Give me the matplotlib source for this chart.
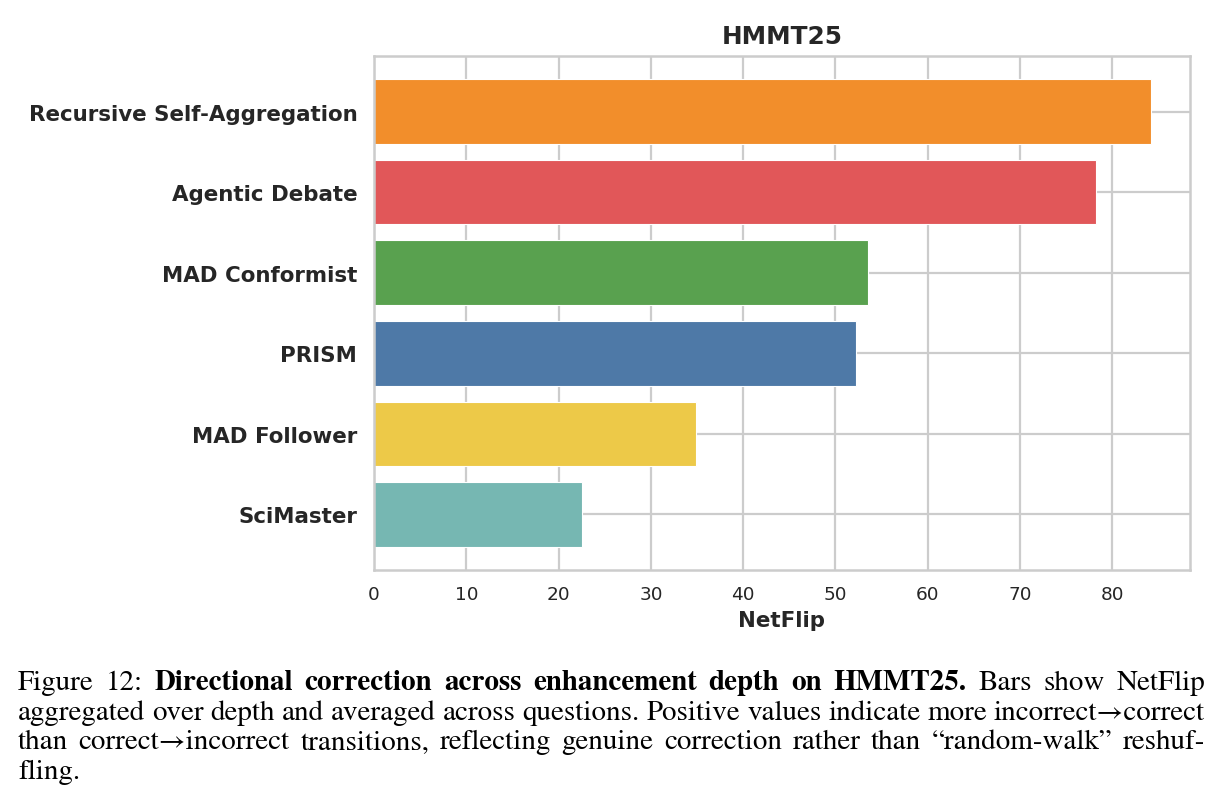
import numpy as np
import matplotlib
matplotlib.use("Agg")
import matplotlib.pyplot as plt

# data
methods = ["Recursive Self-Aggregation", "Agentic Debate", "MAD Conformist",
           "PRISM", "MAD Follower", "SciMaster"]
netflip = [84.2, 78.2, 53.5, 52.2, 34.9, 22.5]
colors = ["#F28E2B", "#E15759", "#59A14F", "#4E79A7", "#EDC948", "#76B7B2"]
x_ticks = [0, 10, 20, 30, 40, 50, 60, 70, 80]

title = "HMMT25"
xlabel = "NetFlip"

# caption lines: list of (text, weight) parts, plus whether the line is justified
caption = [
    ([("Figure 12:", "normal"),
      ("Directional correction across enhancement depth on HMMT25.", "bold"),
      ("Bars show NetFlip", "normal")], True),
    ([("aggregated over depth and averaged across questions. Positive values indicate more incorrect\u2192correct", "normal")], True),
    ([("than correct\u2192incorrect transitions, reflecting genuine correction rather than \u201crandom-walk\u201d reshuf-", "normal")], True),
    ([("fling.", "normal")], False),
]

W, H, DPI = 1223, 812, 100
txt_col = "#262626"
grid_col = "#cccccc"

fig = plt.figure(figsize=(W / DPI, H / DPI), dpi=DPI)
ax = fig.add_axes([374 / W, 1 - 571 / H, (1190 - 374) / W, (571 - 57) / H])

y = np.arange(len(methods))
ax.barh(y, netflip, height=0.8, color=colors, edgecolor="white", linewidth=0.8, zorder=2)
ax.invert_yaxis()

ax.set_axisbelow(True)
ax.grid(True, color=grid_col, linewidth=1.6, zorder=0)
for s in ax.spines.values():
    s.set_color(grid_col)
    s.set_linewidth(1.8)

ax.set_xticks(x_ticks)
ax.set_yticks(y)
ax.set_yticklabels(methods, fontsize=15.4, fontweight="bold", color=txt_col)
ax.tick_params(axis="x", labelsize=13.3, labelcolor=txt_col, length=0, pad=11)
ax.tick_params(axis="y", length=0, pad=12)

ax.set_xlabel(xlabel, fontsize=15.4, fontweight="bold", color=txt_col, labelpad=5)
ax.set_title(title, fontsize=17.8, fontweight="bold", color=txt_col, pad=9)

# caption below the chart, justified like the LaTeX source
cap_family = ["STIXGeneral", "Liberation Serif", "DejaVu Serif"]
x_left, x_right = 18, 1205
baselines = [690, 720, 749, 779]
renderer = fig.canvas.get_renderer()


def split_words(parts):
    words = []
    for txt, w in parts:
        for wd in txt.split(" "):
            if wd:
                words.append((wd, w))
    return words


# pick the size at which line 2 fills the text width with plain spaces
probe = split_words(caption[1][0])
tmp = [fig.text(0, 0, wd, fontsize=19, fontweight=w, family=cap_family) for wd, w in probe]
natural = sum(t.get_window_extent(renderer).width for t in tmp) + (len(probe) - 1) * 0.25 * 19 * DPI / 72
for t in tmp:
    t.remove()
cap_size = 19 * (x_right - x_left) / natural

cap_kw = dict(fontsize=cap_size, family=cap_family, color="black", va="baseline", ha="left")
for (parts, justify), base in zip(caption, baselines):
    words = split_words(parts)
    arts = [fig.text(0, 1 - base / H, wd, fontweight=w, **cap_kw) for wd, w in words]
    widths = [a.get_window_extent(renderer).width for a in arts]
    if justify and len(words) > 1:
        gap = (x_right - x_left - sum(widths)) / (len(words) - 1)
    else:
        gap = cap_size * DPI / 72 * 0.25
    x = x_left
    for a, wpx in zip(arts, widths):
        a.set_x(x / W)
        x += wpx + gap

fig.savefig("out.png", dpi=DPI)
